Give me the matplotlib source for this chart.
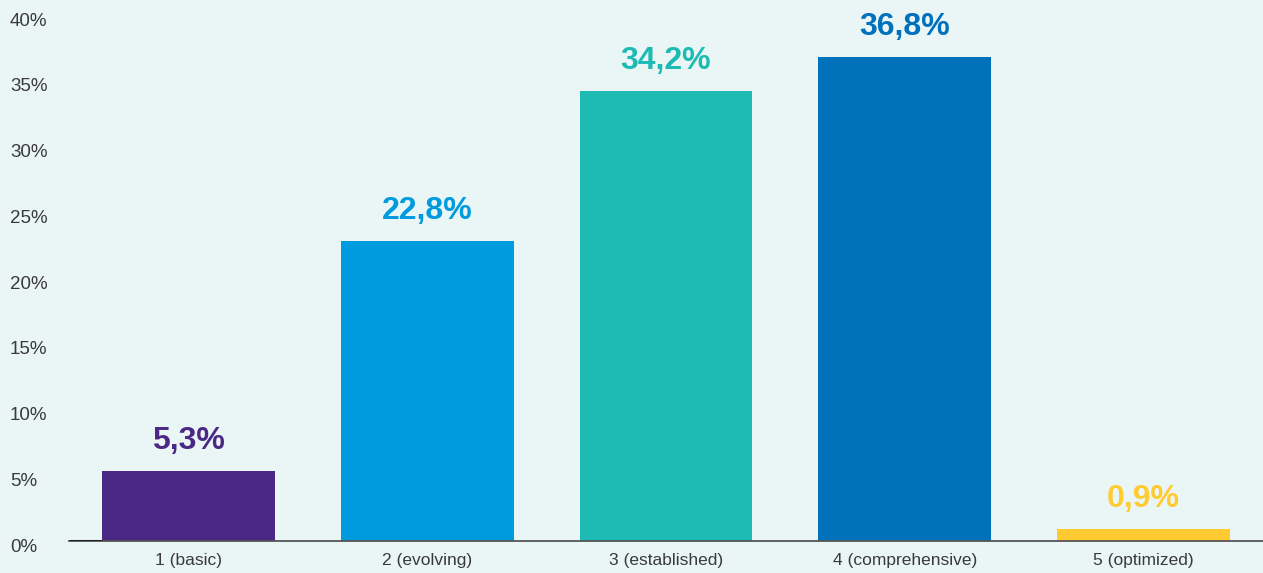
import matplotlib.pyplot as plt
import matplotlib.transforms as mtransforms

categories = ["1 (basic)", "2 (evolving)", "3 (established)", "4 (comprehensive)", "5 (optimized)"]
values = [5.3, 22.8, 34.2, 36.8, 0.9]
labels = ["5,3%", "22,8%", "34,2%", "36,8%", "0,9%"]
colors = ["#4b2883", "#009bde", "#1ebbb4", "#0071bb", "#ffcb31"]
yticks = [0, 5, 10, 15, 20, 25, 30, 35, 40]

bg = "#eaf6f6"
plt.rcParams['font.family'] = ['Liberation Sans', 'DejaVu Sans']

fig = plt.figure(figsize=(12.63, 5.73), dpi=100, facecolor=bg)
ax = fig.add_axes([69 / 1263, 32 / 573, 1 - 69 / 1263, 1 - 32 / 573])
ax.set_facecolor(bg)

x = range(len(categories))
bars = ax.bar(x, values, width=0.724, color=colors, zorder=2)

for bar, lab, col in zip(bars, labels, colors):
    ax.annotate(lab, (bar.get_x() + bar.get_width() / 2, bar.get_height()),
                xytext=(0, 30), textcoords='offset pixels',
                ha='center', va='center', fontsize=23, fontweight='bold', color=col)

ax.set_xlim(-0.5, 4.5)
ax.set_ylim(0, 41.15)
ax.set_xticks(list(x))
ax.set_xticklabels(categories)
ax.set_yticks(yticks)
ax.set_yticklabels([f"{t}%" for t in yticks])
ax.tick_params(axis='both', length=0, labelsize=12.5, colors='#3a3a3a')
ax.tick_params(axis='y', pad=42.5, labelsize=13.5)
ax.tick_params(axis='x', pad=9)

# left-align the percentage labels and nudge them down a little
shift = mtransforms.ScaledTranslation(0, -4 / 100, fig.dpi_scale_trans)
for lbl in ax.get_yticklabels():
    lbl.set_horizontalalignment('left')
    lbl.set_transform(lbl.get_transform() + shift)

for side in ['top', 'right', 'left']:
    ax.spines[side].set_visible(False)
ax.spines['bottom'].set_color('#555555')
ax.spines['bottom'].set_linewidth(1.3)
ax.spines['bottom'].set_zorder(3)
# darker stub of the baseline before the first bar
ax.plot([-0.5, bars[0].get_x()], [0, 0], color='#222222', lw=2.2, zorder=4,
        solid_capstyle='butt')

fig.savefig("out.png", dpi=100, facecolor=bg)
